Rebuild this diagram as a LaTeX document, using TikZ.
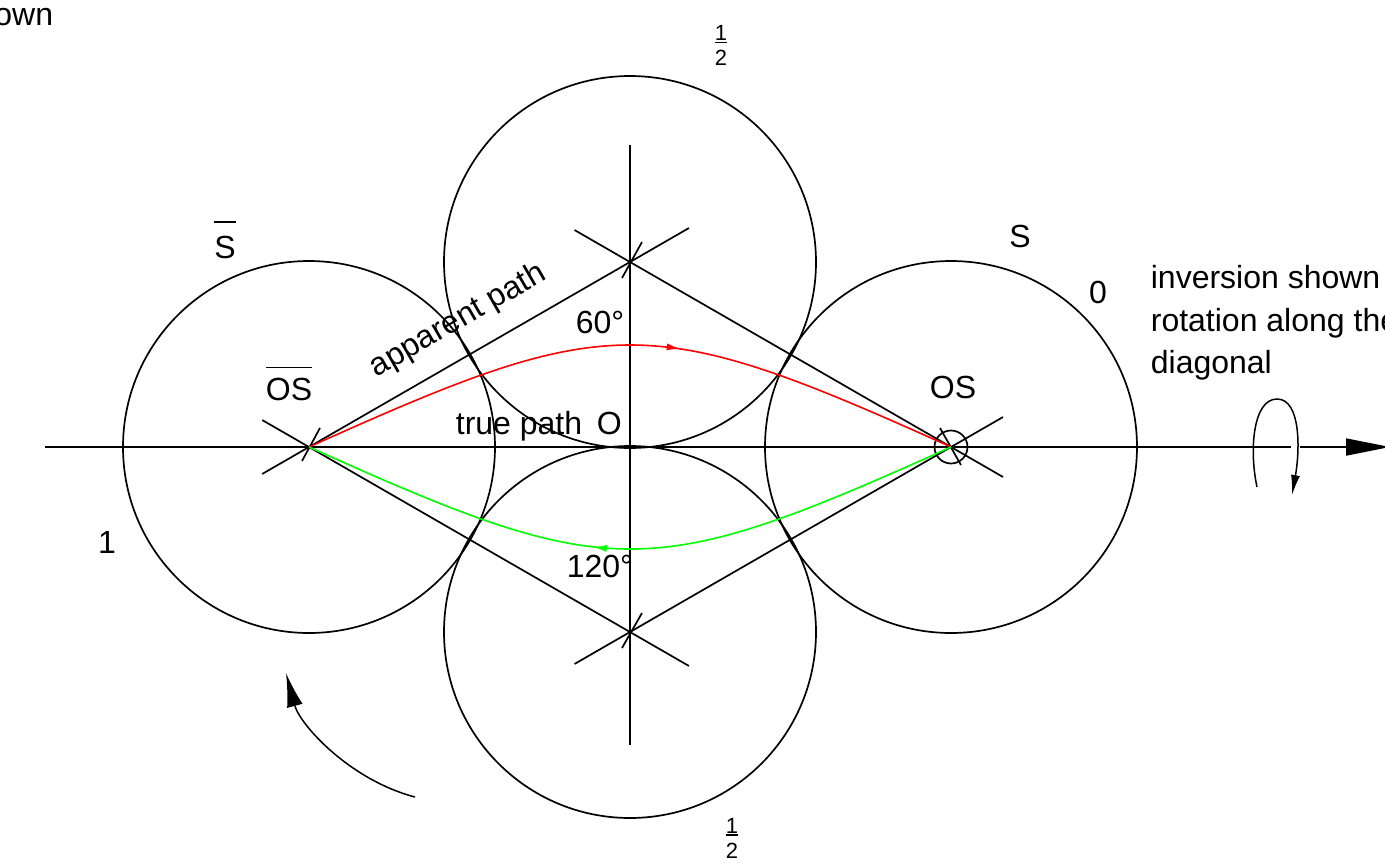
\documentclass[tikz,border=0pt]{standalone}
\usepackage{fontspec}
\setmainfont{Liberation Sans}
\usetikzlibrary{arrows.meta,calc,decorations.markings}
\newcommand\ovlbox[2][11pt]{\vbox{\hrule height 1.6pt\kern#1\hbox{#2}}}
\newcommand\halfbox{\vbox{\hbox{1}\kern1pt\hrule height 1.5pt\kern7pt\hbox{2}}}
\begin{document}
\begin{tikzpicture}[x=1pt,y=-1pt,line width=1.7pt,
  lbl/.style={inner sep=0pt,font=\fontsize{32}{38}\selectfont},
  fraclbl/.style={inner sep=0pt,font=\fontsize{22}{26}\selectfont},
  redpath/.style={red,line width=1.6pt,postaction={decorate},
    decoration={markings,mark=at position 0.575 with {\arrow{Latex[length=14pt,width=7pt]}}}},
  greenpath/.style={green,line width=1.6pt,postaction={decorate},
    decoration={markings,mark=at position 0.555 with {\arrow{Latex[length=14pt,width=7pt]}}}},
  rotarrow/.style={line width=1.5pt}]
\useasboundingbox (0,0) rectangle (1385,863);
\fill[white] (0,0) rectangle (1385,863);
% vertices
\coordinate (L) at (309,447);
\coordinate (T) at (630,262);
\coordinate (R) at (951,447);
\coordinate (B) at (630,632);
\coordinate (axL) at (45,447);
\coordinate (axG1) at (1291,447);
\coordinate (axG2) at (1300,447);
\coordinate (axR) at (1390,447);
\coordinate (vT) at (630,145);
\coordinate (vB) at (630,745);
% circles
\draw (L) circle (186);
\draw (R) circle (186);
\draw (T) circle (186);
\draw (B) circle (186);
% axes
\draw (axL) -- (axG1);
\draw[-{Triangle[length=44pt,width=17pt]}] (axG2) -- (axR);
\draw (vT) -- (vB);
% rhombus lines with extensions
\draw ($(L)!-54pt!(B)$) -- ($(B)!-68pt!(L)$);
\draw ($(L)!-54pt!(T)$) -- ($(T)!-68pt!(L)$);
\draw ($(T)!-64pt!(R)$) -- ($(R)!-60pt!(T)$);
\draw ($(B)!-64pt!(R)$) -- ($(R)!-60pt!(B)$);
% ticks
\draw ($(L)+(11,-19)$) -- ($(L)+(-7,14)$);
\draw ($(T)+(12,-20)$) -- ($(T)+(-8,16)$);
\draw ($(B)+(12,-19)$) -- ($(B)+(-8,16)$);
\draw ($(R)+(-11,-19)$) -- ($(R)+(10,18)$);
\draw (R) circle (16.5);
% paths
\draw[redpath] (L) .. controls (611,311) and (649,311) .. (R);
\draw[greenpath] (R) .. controls (649,583) and (611,583) .. (L);
% rotation symbols
\draw[rotarrow,-{Latex[length=20pt,width=9pt]}] (1257,487) .. controls (1249,450) and (1253,399) .. (1277,399) .. controls (1301,399) and (1300,450) .. (1292,495);
\draw[rotarrow,-{Latex[length=34pt,width=16pt]}] (415,797) .. controls (350,780) and (300,725) .. (286,673);
% labels
\node[lbl,anchor=base east] (own) at (54,25) {own};
\node[fraclbl] (htop) at (721,45.5) {\halfbox};
\node[fraclbl] (hbot) at (732,838) {\halfbox};
\node[lbl] (Sbar) at (225,240) {\ovlbox[13pt]{S}};
\node[lbl] (Sr) at (1020,236) {S};
\node[lbl] (zero) at (1098,292) {0};
\node[lbl] (one) at (107,542) {1};
\node[lbl] (OSbar) at (289,384) {\ovlbox[10pt]{OS}};
\node[lbl,anchor=base west] (OSr) at (929,398) {OS};
\node[lbl,anchor=base west,rotate=30] (app) at (376,378) {apparent path};
\node[lbl,anchor=base west] (sixty) at (575,333) {60°};
\node[lbl,anchor=base west] (truep) at (455,434) {true path};
\node[lbl,anchor=base west] (Ol) at (596,434) {O};
\node[lbl,anchor=base west] (onetwenty) at (566,577) {120°};
\node[lbl,anchor=base west] (inv1) at (1150,288) {inversion shown};
\node[lbl,anchor=base west] (inv2) at (1150,331) {rotation along the};
\node[lbl,anchor=base west] (inv3) at (1150,373) {diagonal};
\end{tikzpicture}
\end{document}
